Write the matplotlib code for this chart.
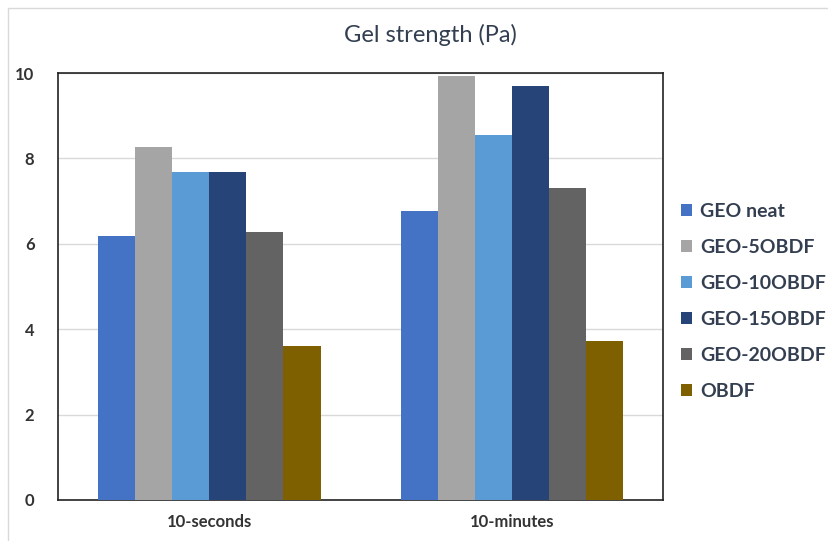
import numpy as np
import matplotlib.pyplot as plt
from matplotlib.patches import Rectangle

# ---------------- DATA ----------------
categories = ["10-seconds", "10-minutes"]
series = ["GEO neat", "GEO-5OBDF", "GEO-10OBDF", "GEO-15OBDF", "GEO-20OBDF", "OBDF"]
values = [
    [6.18, 6.77],
    [8.27, 9.93],
    [7.68, 8.55],
    [7.68, 9.70],
    [6.28, 7.31],
    [3.60, 3.73],
]
colors = ["#4472C4", "#A5A5A5", "#5B9BD5", "#264478", "#636363", "#7F6000"]

plt.rcParams['font.family'] = ['Lato', 'DejaVu Sans']

fig = plt.figure(figsize=(8.29, 5.41), dpi=100)
ax = fig.add_axes([0.070, 0.076, 0.730, 0.789])

# light outer border like the spreadsheet chart area
fig.patches.append(Rectangle((0.010, -0.01), 1.0, 0.995, transform=fig.transFigure,
                             fill=False, edgecolor="#D9D9D9", linewidth=1.0))

x = np.arange(len(categories))
bw = 0.1225
n = len(series)
for i, (name, vals, c) in enumerate(zip(series, values, colors)):
    offs = (i - (n - 1) / 2) * bw
    ax.bar(x + offs, vals, width=bw, color=c, label=name, zorder=3)

ax.set_xlim(-0.5, 1.5)
ax.set_ylim(0, 10)
ax.set_yticks([0, 2, 4, 6, 8, 10])
ax.set_xticks(x)
ax.set_xticklabels(categories)
ax.grid(axis="y", color="#D9D9D9", linewidth=1.0, zorder=0)
for s in ax.spines.values():
    s.set_color("#222222")
    s.set_linewidth(1.2)
ax.tick_params(axis="both", length=0, labelsize=12, colors="#333333")
ax.tick_params(axis="y", pad=17)
ax.tick_params(axis="x", pad=10)
for lab in ax.get_xticklabels() + ax.get_yticklabels():
    lab.set_fontweight("bold")

fig.suptitle("Gel strength (Pa)", x=0.519, y=0.955, fontsize=17, color="#333F50")

leg = ax.legend(loc="center left", bbox_to_anchor=(1.0, 0.465), frameon=False,
                prop={"size": 14, "weight": "bold"}, handlelength=0.6, handleheight=0.6,
                handletextpad=0.4, labelspacing=0.98, labelcolor="#333F50")

fig.savefig("out.png", dpi=100)
